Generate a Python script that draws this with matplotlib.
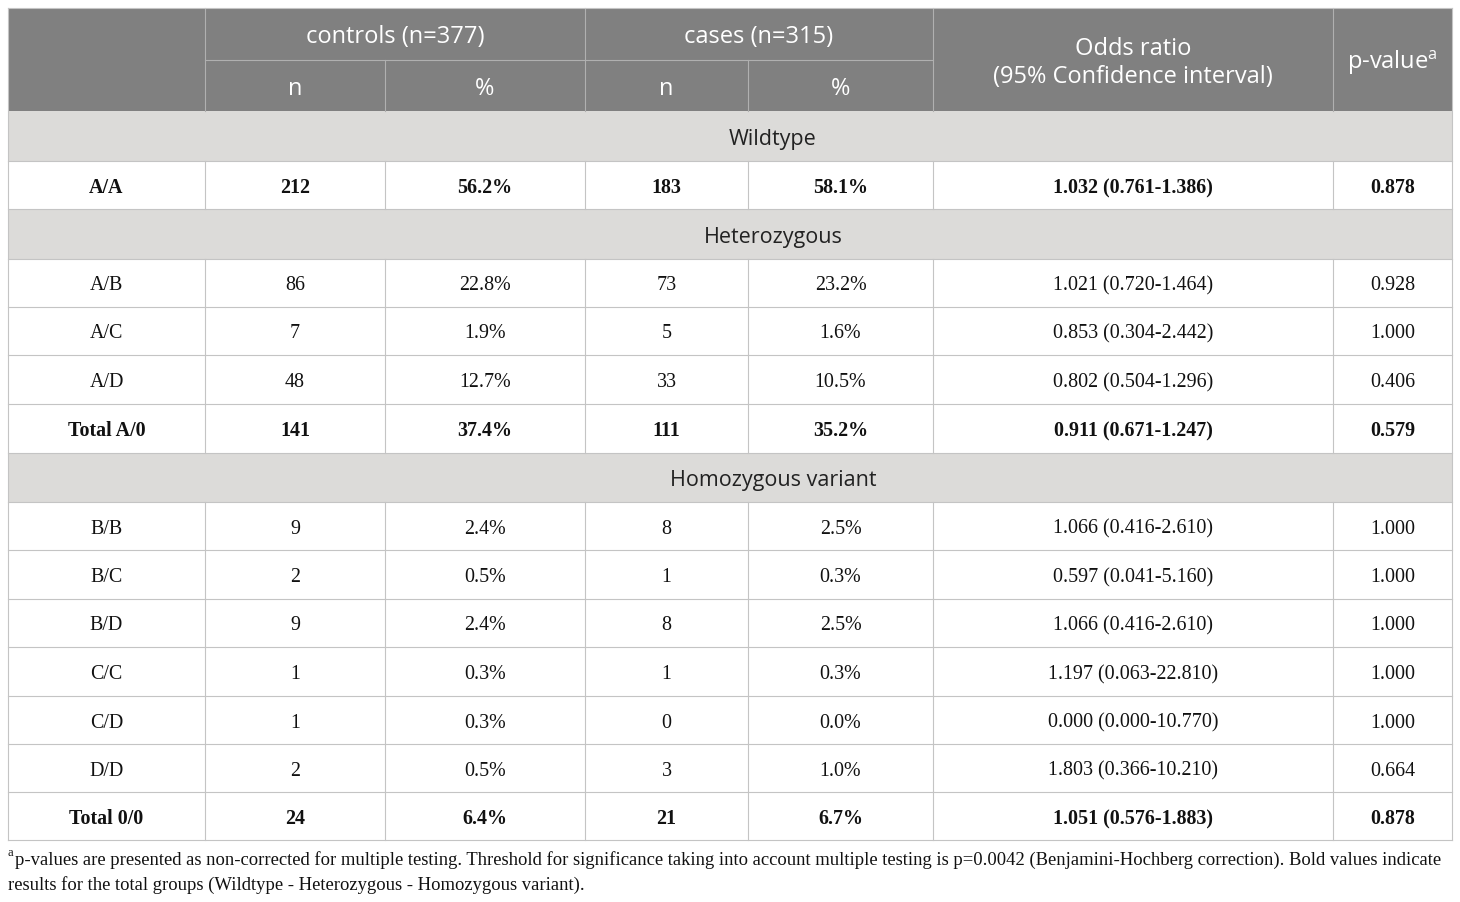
import matplotlib.pyplot as plt
from matplotlib.patches import Rectangle

# column edges and row edges in pixels
col_x = [8, 205, 385, 585, 748, 933, 1333, 1452]
row_y = [111, 161, 209, 259, 307, 355, 404, 453, 502, 550, 599, 647, 696, 744, 792, 840]

sections = {0: "Wildtype", 2: "Heterozygous", 7: "Homozygous variant"}

genotypes = ["A/A", "A/B", "A/C", "A/D", "Total A/0", "B/B", "B/C", "B/D", "C/C", "C/D", "D/D", "Total 0/0"]
controls_n = ["212", "86", "7", "48", "141", "9", "2", "9", "1", "1", "2", "24"]
controls_pct = ["56.2%", "22.8%", "1.9%", "12.7%", "37.4%", "2.4%", "0.5%", "2.4%", "0.3%", "0.3%", "0.5%", "6.4%"]
cases_n = ["183", "73", "5", "33", "111", "8", "1", "8", "1", "0", "3", "21"]
cases_pct = ["58.1%", "23.2%", "1.6%", "10.5%", "35.2%", "2.5%", "0.3%", "2.5%", "0.3%", "0.0%", "1.0%", "6.7%"]
odds = ["1.032 (0.761-1.386)", "1.021 (0.720-1.464)", "0.853 (0.304-2.442)", "0.802 (0.504-1.296)",
        "0.911 (0.671-1.247)", "1.066 (0.416-2.610)", "0.597 (0.041-5.160)", "1.066 (0.416-2.610)",
        "1.197 (0.063-22.810)", "0.000 (0.000-10.770)", "1.803 (0.366-10.210)", "1.051 (0.576-1.883)"]
pvals = ["0.878", "0.928", "1.000", "0.406", "0.579", "1.000", "1.000", "1.000", "1.000", "1.000", "0.664", "0.878"]
bold_rows = {"A/A", "Total A/0", "Total 0/0"}

footnote1 = "p-values are presented as non-corrected for multiple testing. Threshold for significance taking into account multiple testing is p=0.0042 (Benjamini-Hochberg correction). Bold values indicate"
footnote2 = "results for the total groups (Wildtype - Heterozygous - Homozygous variant)."

HEAD = "#808080"
SECT = "#dcdbd9"
LINE = "#c4c4c4"
sans = "Open Sans"
serif = "Liberation Serif"

fig = plt.figure(figsize=(14.6, 9.02), dpi=100)
ax = fig.add_axes([0, 0, 1, 1])
ax.set_xlim(0, 1460)
ax.set_ylim(902, 0)
ax.axis("off")

left, right = col_x[0], col_x[-1]
top, mid = 8, 60

# header block
ax.add_patch(Rectangle((left, top), right - left, row_y[0] - top, color=HEAD, lw=0))
hl = dict(color="#b0b0b0", lw=0.8)
ax.plot([col_x[1], col_x[5]], [mid, mid], **hl)
for i in [1, 3, 5, 6]:
    ax.plot([col_x[i], col_x[i]], [top, row_y[0]], **hl)
for i in [2, 4]:
    ax.plot([col_x[i], col_x[i]], [mid, row_y[0]], **hl)

hs = dict(color="white", fontsize=17, family=sans, ha="center", va="center")
ax.text((col_x[1] + col_x[3]) / 2, 37, "controls (n=377)", **hs)
ax.text((col_x[3] + col_x[5]) / 2, 37, "cases (n=315)", **hs)
for i, lab in enumerate(["n", "%", "n", "%"]):
    ax.text((col_x[i + 1] + col_x[i + 2]) / 2, 89, lab, **hs)
ax.text((col_x[5] + col_x[6]) / 2, 63, "Odds ratio\n(95% Confidence interval)", linespacing=1.18, **hs)
ax.text((col_x[6] + col_x[7]) / 2, 63, r"p-value$^{\mathregular{a}}$", **hs)

# body rows
g = 0
for r in range(len(row_y) - 1):
    y0, y1 = row_y[r], row_y[r + 1]
    yc = (y0 + y1) / 2
    if r in sections:
        ax.add_patch(Rectangle((left, y0), right - left, y1 - y0, color=SECT, lw=0))
        ax.text(773, yc + 3, sections[r], color="#222222", fontsize=15.5,
                family=sans, ha="center", va="center")
    else:
        vals = [genotypes[g], controls_n[g], controls_pct[g], cases_n[g], cases_pct[g], odds[g], pvals[g]]
        w = "bold" if genotypes[g] in bold_rows else "normal"
        for c, v in enumerate(vals):
            ax.text((col_x[c] + col_x[c + 1]) / 2, yc + 3, v, fontsize=14.4, family=serif,
                    weight=w, color="#111111", ha="center", va="center")
        for x in col_x[1:-1]:
            ax.plot([x, x], [y0, y1], color=LINE, lw=0.8)
        g += 1
    ax.plot([left, right], [y1, y1], color=LINE, lw=0.8)

# outer border
ax.plot([left, left], [top, row_y[-1]], color=LINE, lw=0.8)
ax.plot([right, right], [top, row_y[-1]], color=LINE, lw=0.8)
ax.plot([left, right], [top, top], color=LINE, lw=0.8)

# footnote
ax.text(left, 853, "a", fontsize=9, family=serif, va="center", ha="left", color="#111111")
ax.text(left + 7, 860, footnote1, fontsize=13.4, family=serif, va="center", ha="left", color="#111111")
ax.text(left, 885, footnote2, fontsize=13.4, family=serif, va="center", ha="left", color="#111111")

fig.savefig("out.png", dpi=100)
